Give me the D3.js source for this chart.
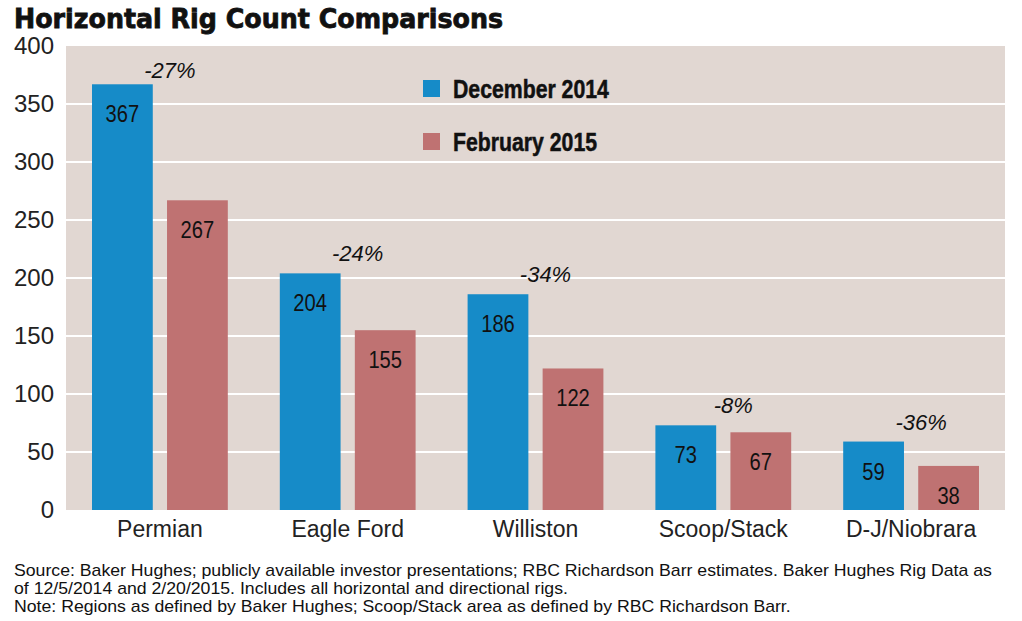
<!DOCTYPE html>
<html><head><meta charset="utf-8">
<script src="https://cdn.jsdelivr.net/npm/d3@7"></script>
<style>
body{margin:0;background:#fff;}
svg{display:block;}
</style></head>
<body>
<svg id="chart" width="1022" height="621"></svg>
<script>
const categories = ["Permian","Eagle Ford","Williston","Scoop/Stack","D-J/Niobrara"];
const series = ["December 2014","February 2015"];
const dec2014 = [367,204,186,73,59];
const feb2015 = [267,155,122,67,38];
const changes = ["-27%","-24%","-34%","-8%","-36%"];
const yTicks = [0,50,100,150,200,250,300,350,400];
const colors = ["#168bc8","#bf7272"];

const svg = d3.select("#chart");
const m = {left:66, right:1005, top:46, bottom:510};
const sans = "'Liberation Sans',Arial,sans-serif";

svg.append("text").attr("x",14).attr("y",28)
  .attr("font-family","'DejaVu Sans', sans-serif").attr("font-weight","bold")
  .attr("font-size",26).attr("fill","#111")
  .attr("textLength",489).attr("lengthAdjust","spacingAndGlyphs")
  .attr("stroke","#111").attr("stroke-width",0.8)
  .text("Horizontal Rig Count Comparisons");

const x0 = d3.scaleBand().domain(categories).range([m.left,m.right]).paddingInner(0).paddingOuter(0);
const x1 = d3.scaleBand().domain(series).range([26, x0.bandwidth()-26]).paddingInner(0.19);
const y = d3.scaleLinear().domain([0,400]).range([m.bottom,m.top]);

svg.append("rect").attr("x",m.left).attr("y",m.top).attr("width",m.right-m.left).attr("height",m.bottom-m.top).attr("fill","#e1d7d2");

svg.append("g").selectAll("line").data(yTicks.filter(d=>d>0&&d<400)).join("line")
  .attr("x1",m.left).attr("x2",m.right).attr("y1",d=>y(d)).attr("y2",d=>y(d))
  .attr("stroke","#fff").attr("stroke-width",2);

const yAxis = svg.append("g").attr("transform",`translate(${m.left},0)`)
  .call(d3.axisLeft(y).tickValues(yTicks).tickSize(0).tickPadding(12));
yAxis.select(".domain").remove();
yAxis.selectAll("text").attr("font-family",sans).attr("font-size",24).attr("fill","#222");

const xAxis = svg.append("g").attr("transform",`translate(0,${m.bottom})`)
  .call(d3.axisBottom(x0).tickSize(0).tickPadding(11));
xAxis.select(".domain").remove();
xAxis.selectAll("text").attr("font-family",sans).attr("font-size",23).attr("fill","#222");

const data = categories.map((c,i)=>({c, vals:[dec2014[i],feb2015[i]], ch:changes[i]}));
const g = svg.append("g").selectAll("g").data(data).join("g").attr("transform",d=>`translate(${x0(d.c)},0)`);
const pts = d=>d.vals.map((v,j)=>({s:series[j],v,j}));
g.selectAll("rect").data(pts).join("rect")
  .attr("x",d=>x1(d.s)).attr("width",x1.bandwidth()).attr("y",d=>y(d.v)).attr("height",d=>y(0)-y(d.v))
  .attr("fill",d=>colors[d.j]);
g.selectAll("text.val").data(pts).join("text").attr("class","val")
  .attr("transform",d=>`translate(${x1(d.s)+x1.bandwidth()/2},${y(d.v)+38}) scale(0.84,1)`)
  .attr("text-anchor","middle").attr("font-family",sans).attr("font-size",24).attr("fill","#111").text(d=>d.v);
g.append("text").attr("x",x0.bandwidth()/2+10).attr("y",d=>Math.max(y(d.vals[0])-12, 78))
  .attr("text-anchor","middle").attr("font-family",sans).attr("font-style","italic").attr("font-size",22).attr("fill","#111").text(d=>d.ch);

const leg = svg.append("g").selectAll("g").data(series).join("g").attr("transform",(d,i)=>`translate(423,${80+i*53})`);
leg.append("rect").attr("width",17).attr("height",17).attr("fill",(d,i)=>colors[i]);
leg.append("text").attr("transform","translate(30,18) scale(0.85,1)").attr("font-family",sans).attr("font-weight","bold").attr("font-size",25).attr("fill","#111")
  .attr("stroke","#111").attr("stroke-width",0.5).text(d=>d);

const notes = ["Source: Baker Hughes; publicly available investor presentations; RBC Richardson Barr estimates. Baker Hughes Rig Data as",
"of 12/5/2014 and 2/20/2015. Includes all horizontal and directional rigs.",
"Note: Regions as defined by Baker Hughes; Scoop/Stack area as defined by RBC Richardson Barr."];
svg.append("g").selectAll("text").data(notes).join("text")
  .attr("transform",(d,i)=>`translate(14,${576+i*18}) scale(1.04,1)`)
  .attr("font-family",sans).attr("font-size",17).attr("fill","#111").text(d=>d);
</script>
</body></html>
